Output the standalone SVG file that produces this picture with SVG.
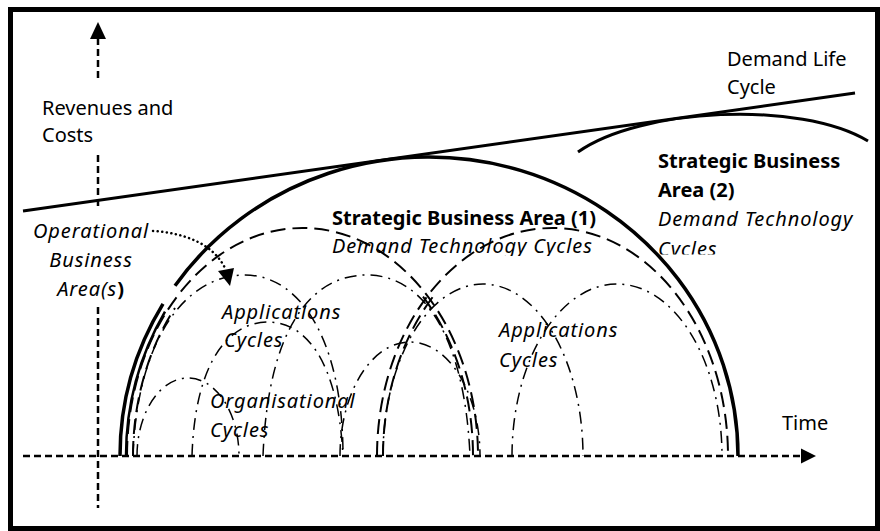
<svg xmlns="http://www.w3.org/2000/svg" width="880" height="531" viewBox="0 0 880 531">
<style>
.t{font-family:"Noto Sans","Open Sans","DejaVu Sans",sans-serif;font-size:20px;fill:#000}
.b{font-weight:bold}
.i{font-style:italic;letter-spacing:0.9px}
.axis{fill:none;stroke:#000;stroke-width:2.5;stroke-dasharray:7 4}
.solid{fill:none;stroke:#000;stroke-width:3.5}
.dash{fill:none;stroke:#000;stroke-width:2;stroke-dasharray:15 7}
.dd{fill:none;stroke:#000;stroke-width:1.5;stroke-dasharray:12 6 2 6}
.dot{fill:none;stroke:#000;stroke-width:2.5;stroke-dasharray:0.1 4.5;stroke-linecap:round}
</style>
<defs>
<clipPath id="c1"><rect x="320" y="200" width="300" height="56"/></clipPath>
<clipPath id="c2"><rect x="650" y="140" width="220" height="114.5"/></clipPath>
</defs>
<rect x="10.5" y="9.5" width="867" height="519" fill="#fff" stroke="#000" stroke-width="5"/>
<g id="connectors">
  <!-- axes -->
  <path class="axis" d="M98,38 V82 M98,155 V208 M98,307 V508"/>
  <polygon points="98,22 90,39 106,39" fill="#000"/>
  <path class="axis" d="M23,456 H803"/>
  <polygon points="816,456 801,448.5 801,463.5" fill="#000"/>
  <!-- demand life cycle -->
  <path d="M23,211 L855,93" fill="none" stroke="#000" stroke-width="3"/>
  <!-- SBA 1 -->
  <path class="solid" d="M120,456 A309,299 0 0 1 163,303.84"/>
  <path fill="none" stroke="#000" stroke-width="2.5" d="M126,456 A307,296 0 0 1 165,311.6"/>
  <path class="solid" d="M175,285.73 A309,299 0 0 1 738,456"/>
  <!-- SBA 2 -->
  <path d="M578,152 C640,108 800,100 868,141" fill="none" stroke="#000" stroke-width="3"/>
  <!-- demand technology cycles -->
  <path class="dash" d="M127,456 A175.5,228 0 0 1 478,456"/>
  <path class="dash" d="M377,456 A175.5,228 0 0 1 728,456"/>
  <path class="dash" d="M423,296.6 A175.5,228 0 0 1 473,456"/>
  <path class="dash" d="M383,456 A175.5,228 0 0 1 436,292.7"/>
  <path class="dash" d="M133,456 A175.5,228 0 0 1 175,308"/>
  <!-- applications cycles -->
  <path class="dd" d="M133,456 C137,340 185,275 245,275 C300,275 343,340 343,456"/>
  <path class="dd" d="M263,456 C268,330 310,275 367,275 C425,275 465,340 470,456"/>
  <path class="dd" d="M383,456 A100,172 0 0 1 583,456"/>
  <path class="dd" d="M512,456 A105,172 0 0 1 722,456"/>
  <!-- organisational cycles -->
  <path class="dd" d="M137,456 A51,78 0 0 1 239,456"/>
  <path class="dd" d="M192,456 C195,360 230,322 268,322 C305,322 338,360 343,456"/>
  <path class="dd" d="M340,456 A70,114 0 0 1 480,456"/>
  <!-- operational pointer -->
  <path class="dot" d="M153,231 C185,233 213,244 225,268"/>
  <polygon points="218,271 234,268 230,286" fill="#000"/>
</g>
<g id="axis-revenues"><text class="t" x="42" y="115">Revenues and</text><text class="t" x="42" y="142">Costs</text></g>
<g id="axis-time"><text class="t" x="782" y="430">Time</text></g>
<g id="demand-life-cycle"><text class="t" x="727" y="66">Demand Life</text><text class="t" x="727" y="94">Cycle</text></g>
<g id="sba1">
  <text class="t b" x="332" y="225">Strategic Business Area (1)</text>
  <text class="t i" x="332" y="253" clip-path="url(#c1)">Demand Technology Cycles</text>
</g>
<g id="sba2">
  <text class="t b" x="658" y="168">Strategic Business</text>
  <text class="t b" x="658" y="197">Area (2)</text>
  <text class="t i" x="658" y="226">Demand Technology</text>
  <text class="t i" x="658" y="256" clip-path="url(#c2)">Cycles</text>
</g>
<g id="operational">
  <text class="t i" x="91" y="238" text-anchor="middle">Operational</text>
  <text class="t i" x="91" y="267" text-anchor="middle">Business</text>
  <text class="t i" x="91" y="296" text-anchor="middle">Area(s<tspan font-weight="bold" font-style="normal">)</tspan></text>
</g>
<g id="applications-1"><text class="t i" x="222" y="319">Applications</text><text class="t i" x="224" y="347">Cycles</text></g>
<g id="organisational"><text class="t i" x="210" y="408">Organisational</text><text class="t i" x="210" y="437">Cycles</text></g>
<g id="applications-2"><text class="t i" x="499" y="337">Applications</text><text class="t i" x="499" y="367">Cycles</text></g>
</svg>
